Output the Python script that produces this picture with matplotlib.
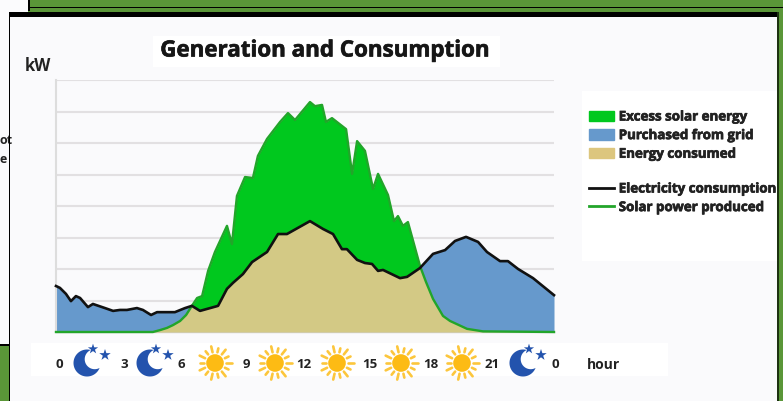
import numpy as np
import matplotlib
matplotlib.use("Agg")
import matplotlib.pyplot as plt
import matplotlib.patheffects as pe
from matplotlib.patches import Rectangle, Circle, PathPatch, Patch
from matplotlib.lines import Line2D
from matplotlib.path import Path

plt.rcParams['font.family'] = ['Open Sans', 'DejaVu Sans']

title = "Generation and Consumption"
y_unit = "kW"
x_unit = "hour"
hour_labels = ["0", "3", "6", "9", "12", "15", "18", "21", "0"]
series_names = ["Excess solar energy", "Purchased from grid", "Energy consumed",
                "Electricity consumption", "Solar power produced"]

cons_hours = [0, .19, .48, .72, .96, 1.16, 1.54, 1.78, 2.36, 2.75, 3.08, 3.42, 3.90, 4.19, 4.58, 4.87,
              5.73, 6.22, 6.55, 6.94, 7.81, 8.24, 8.53, 9.01, 9.45, 10.17, 10.70, 11.13, 12.24, 12.87,
              13.35, 13.78, 14.02, 14.51, 14.89, 15.23, 15.52, 15.76, 16.58, 16.92, 17.54, 18.17, 18.75,
              19.23, 19.76, 20.34, 20.77, 21.40, 21.78, 22.27, 22.99, 24]
cons_kw = [1.46, 1.40, 1.21, .98, 1.14, 1.08, .79, .89, .76, .67, .70, .70, .76, .70, .54, .63,
           .63, .76, .83, .67, .83, 1.37, 1.56, 1.84, 2.22, 2.54, 3.11, 3.11, 3.52, 3.27,
           3.11, 2.63, 2.63, 2.29, 2.19, 2.16, 1.94, 1.97, 1.71, 1.75, 2.03, 2.48, 2.60,
           2.89, 3.02, 2.86, 2.54, 2.25, 2.25, 2.00, 1.71, 1.17]
solar_hours = [0, 4.67, 5.01, 5.35, 5.64, 5.98, 6.27, 6.55, 6.80, 7.04, 7.33, 7.66, 8.24, 8.48, 8.72, 9.11,
               9.49, 9.73, 10.17, 10.80, 11.18, 11.52, 12.24, 12.48, 12.82, 13.01, 13.30, 13.98, 14.27,
               14.51, 14.89, 15.28, 15.52, 16.0, 16.29, 16.48, 16.72, 16.96, 17.54, 17.83, 18.17, 18.65,
               18.99, 19.81, 20.58, 24]
solar_kw = [0, 0, .06, .13, .22, .35, .54, .83, 1.08, 1.14, 1.94, 2.54, 3.37, 2.79, 4.32, 4.92,
            4.89, 5.59, 6.13, 6.67, 6.95, 6.73, 7.30, 7.17, 7.21, 6.67, 6.79, 6.44, 5.02,
            6.06, 5.75, 4.54, 5.02, 4.35, 3.52, 3.68, 3.37, 3.49, 2.10, 1.59, 1.05, .51,
            .35, .10, .02, 0]

C_GREEN, C_BLUE, C_TAN = "#00c81e", "#6699cc", "#d3c985"
C_LEG_TAN, C_BLACK, C_LINE = "#dcc67e", "#111111", "#22a52a"
C_BG, C_PANEL, C_GRID = "#5a9638", "#fafafc", "#e2e0e2"
W, H = 783, 402
HEAVY = [pe.withStroke(linewidth=0.5, foreground="#222222")]

fig = plt.figure(figsize=(W / 100, H / 100), dpi=100, facecolor=C_BG)

# pixel-coordinate backdrop and decoration layer
bg = fig.add_axes([0, 0, 1, 1], zorder=0)
bg.set_xlim(0, W); bg.set_ylim(H, 0); bg.axis("off")
def rect(x0, y0, x1, y1, c, z=1):
    bg.add_patch(Rectangle((x0, y0), x1 - x0, y1 - y0, fc=c, ec="none", zorder=z))
rect(0, 0, 28, 345, "#fbfbfd")
rect(28, 0, 29.5, 12, "#000000", 2)
rect(0, 345, 10, 346.5, "#000000", 2)
rect(29, 8, 783, 9.3, "#000000", 2)
rect(9, 13, 778, 18, "#000000", 3)
rect(10, 18, 777, H, C_PANEL, 2)
rect(8.8, 13, 10.3, H, "#000000", 3)
rect(777, 13, 778.5, H, "#1c3210", 3)
rect(153, 37, 500, 68, "#ffffff", 2.5)
rect(582, 92, 777, 262, "#ffffff", 2.5)
rect(31, 344, 668, 377, "#ffffff", 2.5)
bg.text(-1, 141, "ot", fontsize=9, fontweight="bold", color="#222222", va="center", ha="left", zorder=2)
bg.text(-1, 160, "e", fontsize=9, fontweight="bold", color="#222222", va="center", ha="left", zorder=2)

bg.text(325, 52, title, fontsize=16.1, fontweight="bold", color="#161616", ha="center", va="center",
        zorder=4, path_effects=HEAVY)
bg.text(38, 66, y_unit, fontsize=12, fontweight="bold", color="#222222", ha="center", va="center", zorder=4)
bg.text(604, 365, x_unit, fontsize=10, fontweight="bold", color="#222222", ha="center", va="center", zorder=4)

for lab, x in zip(hour_labels, [59, 124, 181, 246, 304, 370, 431, 492, 555]):
    bg.text(x, 365, lab, fontsize=9.5, fontweight="bold", color="#222222", ha="center", va="center", zorder=4)

def sun(cx, cy):
    bg.add_patch(Circle((cx, cy), 8.8, fc="#fdbb14", ec="none", zorder=4))
    for i, a in enumerate(np.arange(0, 2 * np.pi, 2 * np.pi / 14)):
        r0, r1 = 11, (17 if i % 2 == 0 else 15)
        bg.plot([cx + r0 * np.cos(a), cx + r1 * np.cos(a)], [cy + r0 * np.sin(a), cy + r1 * np.sin(a)],
                color="#fcc63c", lw=1.9, solid_capstyle="round", zorder=4)

def moon(cx, cy):
    c = "#2353ad"
    R, r = 13.5, 10.0
    ix, iy = cx + 7.7, cy - 3.8
    phi = np.arctan2(iy - cy, ix - cx)
    alpha = np.radians(48)
    ta = np.linspace(phi + alpha, phi + 2 * np.pi - alpha, 60)
    outer = np.c_[cx + R * np.cos(ta), cy + R * np.sin(ta)]
    tip_end, tip_start = outer[-1], outer[0]
    a0 = np.arctan2(tip_end[1] - iy, tip_end[0] - ix)
    a1 = np.arctan2(tip_start[1] - iy, tip_start[0] - ix)
    mid = phi + np.pi
    a0 = mid + (a0 - mid + np.pi) % (2 * np.pi) - np.pi
    a1 = mid + (a1 - mid + np.pi) % (2 * np.pi) - np.pi
    tb = np.linspace(a0, a1, 40)
    inner = np.c_[ix + r * np.cos(tb), iy + r * np.sin(tb)]
    verts = np.vstack([outer, inner, outer[:1]])
    bg.add_patch(PathPatch(Path(verts), fc=c, ec="none", zorder=4))
    bg.scatter([cx + 6, cx + 18], [cy - 14, cy - 8], marker="*", s=[60, 75], color=c, linewidths=0, zorder=4)

for cx in (87, 150, 523):
    moon(cx, 364)
for cx in (215, 275, 337, 401, 462):
    sun(cx, 364)

# chart
ax = fig.add_axes([56 / W, (H - 333) / H, 498 / W, 252 / H], zorder=2)
ax.patch.set_alpha(0)
ax.set_xlim(0, 24); ax.set_ylim(0, 8)
grid = np.union1d(cons_hours, solar_hours)
c_on = np.interp(grid, cons_hours, cons_kw)
s_on = np.interp(grid, solar_hours, solar_kw)
ax.fill_between(grid, 0, c_on, color=C_BLUE, lw=0, zorder=2)
ax.fill_between(grid, c_on, s_on, where=s_on >= c_on, interpolate=True, color=C_GREEN, lw=0, zorder=2)
ax.fill_between(grid, 0, np.minimum(c_on, s_on), color=C_TAN, lw=0, zorder=3)
ax.plot(solar_hours, solar_kw, color=C_LINE, lw=1.7, zorder=4, clip_on=False, solid_joinstyle="round")
ax.plot(cons_hours, cons_kw, color=C_BLACK, lw=1.9, zorder=5, clip_on=False, solid_joinstyle="round")
ax.set_yticks(range(1, 9))
ax.grid(axis="y", color=C_GRID, lw=1.5, zorder=1)
ax.set_axisbelow(True)
ax.tick_params(left=False, bottom=False, labelleft=False, labelbottom=False)
for s in ("top", "right"):
    ax.spines[s].set_visible(False)
ax.spines["left"].set_color("#dddddd"); ax.spines["left"].set_linewidth(1.5)
ax.spines["bottom"].set_color("#cfcfcf"); ax.spines["bottom"].set_linewidth(1)

area_handles = [Patch(color=C_GREEN), Patch(color=C_BLUE), Patch(color=C_LEG_TAN)]
line_handles = [Line2D([], [], color=C_BLACK, lw=2), Line2D([], [], color=C_LINE, lw=2)]
leg_style = dict(loc="upper left", frameon=False, fontsize=9.6, handlelength=1.85, handleheight=0.8,
                 handletextpad=0.38, labelspacing=0.42, borderpad=0, borderaxespad=0)
for hs, labs, top in ((area_handles, series_names[:3], 111.5), (line_handles, series_names[3:], 183.5)):
    leg = fig.legend(hs, labs, bbox_to_anchor=(589 / W, 1 - top / H), **leg_style)
    for t in leg.get_texts():
        t.set_fontweight("bold"); t.set_color("#222222")
        t.set_path_effects(HEAVY)
    leg.set_zorder(5)

fig.savefig("out.png", dpi=100, facecolor=C_BG)
